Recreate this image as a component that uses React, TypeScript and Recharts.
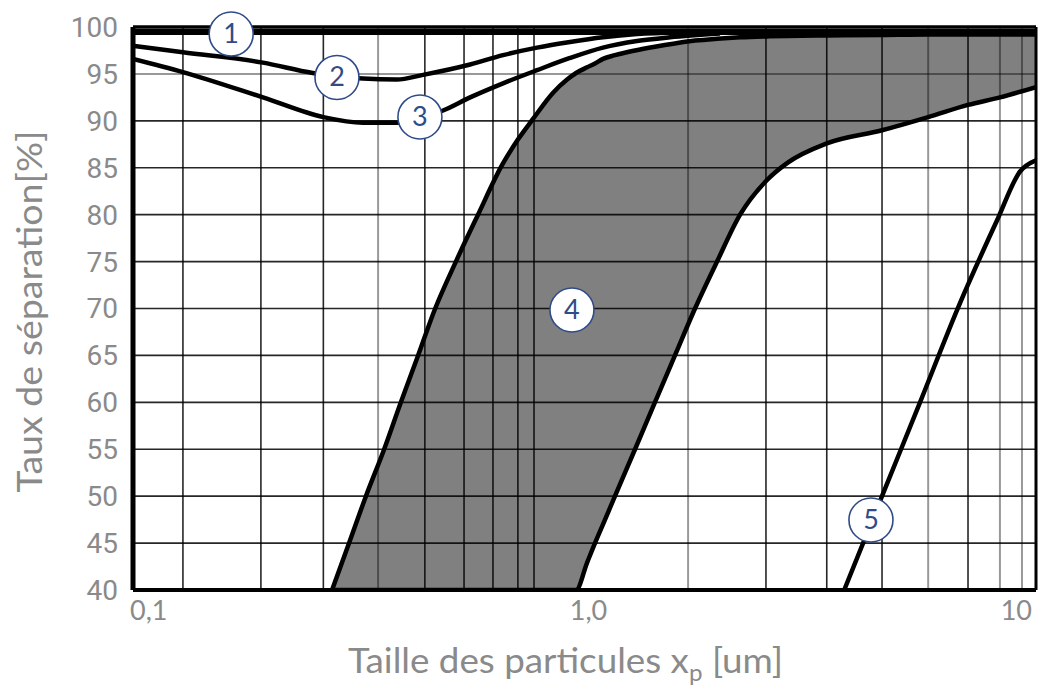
import React from 'react';
import {
  ComposedChart,
  Area,
  Line,
  XAxis,
  YAxis,
  ReferenceLine,
  ReferenceDot,
  Label,
} from 'recharts';

// particle size (um) and separation rate (%)

// shaded band (4): left edge = upper rate, right edge = lower rate
const bandSizes = [0.276, 0.301, 0.328, 0.36, 0.392, 0.428, 0.467, 0.519, 0.581, 0.657, 0.712, 0.769, 0.852, 0.915, 0.958, 1.013, 1.055, 1.099, 1.168, 1.294, 1.432, 1.586, 1.757, 1.966, 2.211, 2.537, 2.809, 3.44, 4.56, 5.77, 7.07, 8.32, 10];
const bandUpper = [40, 45, 50, 55, 60, 65, 70, 75, 80, 85.3, 88.0, 90.2, 93.0, 94.4, 95.1, 95.7, 96.1, 96.6, 97.0, 97.5, 97.9, 98.25, 98.55, 98.75, 98.9, 99.0, 99.05, 99.1, 99.15, 99.2, 99.2, 99.2, 99.2];
const bandLower = [40, 40, 40, 40, 40, 40, 40, 40, 40, 40, 40, 40, 40, 40, 40, 42.9, 45, 47, 50, 55, 60, 65, 70, 75, 80, 83.7, 85.5, 87.6, 89.0, 90.4, 91.7, 92.5, 93.6];

const curve1Sizes = [0.1, 10];
const curve1Values = [99.47, 99.47];

const curve2Sizes = [0.1, 0.129, 0.194, 0.25, 0.323, 0.384, 0.439, 0.558, 0.66, 0.785, 0.929, 1.099, 1.307, 1.627];
const curve2Values = [98.0, 97.3, 96.2, 95.1, 94.5, 94.4, 94.9, 96.0, 97.0, 97.8, 98.4, 98.9, 99.25, 99.45];

const curve3Sizes = [0.1, 0.129, 0.194, 0.264, 0.323, 0.384, 0.486, 0.558, 0.66, 0.785, 0.929, 1.099, 1.307, 1.547, 1.996];
const curve3Values = [96.6, 95.2, 92.5, 90.4, 89.8, 89.8, 91.1, 92.5, 94.0, 95.4, 96.7, 97.8, 98.5, 98.9, 99.3];

const curve5Sizes = [3.76, 4.56, 5.535, 6.79, 8.2, 9.218, 10];
const curve5Values = [40, 50, 60, 70.6, 79.4, 84.6, 85.8];

// numbered markers
const markerIds = ['1', '2', '3', '4', '5'];
const markerSizes = [0.165, 0.283, 0.432, 0.938, 4.31];
const markerValues = [99.25, 94.62, 90.41, 69.84, 47.46];

// axes
const xTickValues = [0.1, 1, 10];
const xTickLabels = ['0,1', '1,0', '10'];
const yTickValues = [40, 45, 50, 55, 60, 65, 70, 75, 80, 85, 90, 95, 100];

// grid lines as drawn in the figure
const gridSizesDark = [0.129, 0.192, 0.264, 0.443, 0.541, 0.627, 0.712, 0.773, 2.523, 3.44, 4.56, 7.07];
const gridSizesLight = [0.349, 1.696, 5.77, 8.32, 9.31];
const gridRatesDark = [45, 50, 55, 60, 65, 70, 75, 80, 85, 90];
const gridRatesLight = [95];

const bandData = bandSizes.map((x, i) => ({
  x,
  lo: bandLower[i],
  hi: bandUpper[i],
  range: [bandLower[i], bandUpper[i]],
}));

const toPoints = (xs: number[], ys: number[]) => xs.map((x, i) => ({ x, y: ys[i] }));

const curve1 = toPoints(curve1Sizes, curve1Values);
const curve2 = toPoints(curve2Sizes, curve2Values);
const curve3 = toPoints(curve3Sizes, curve3Values);
const curve5 = toPoints(curve5Sizes, curve5Values);

const GREY_TEXT = '#8a8a8a';
const MARK_BLUE = '#2f4c88';
const CURVE_W = 4.5;

const XTick = ({ x, y, payload }: any) => {
  const i = xTickValues.indexOf(payload.value);
  const anchor = i === 0 ? 'start' : i === xTickValues.length - 1 ? 'end' : 'middle';
  return (
    <text
      x={x + (i === 0 ? -3 : i === 1 ? 4 : 0)}
      y={y + 30}
      textAnchor={anchor}
      fill={GREY_TEXT}
      fontSize={27}
      fontFamily="Lato, sans-serif"
    >
      {xTickLabels[i]}
    </text>
  );
};

const XTitle = ({ viewBox }: any) => {
  const { x, y, width } = viewBox;
  return (
    <text
      x={x + width / 2 - 19}
      y={y + 83}
      textAnchor="middle"
      fill={GREY_TEXT}
      fontSize={35}
      fontFamily="Lato, sans-serif"
      textLength={435}
      lengthAdjust="spacingAndGlyphs"
    >
      Taille des particules x
      <tspan dy={8} fontSize={23}>p</tspan>
      <tspan dy={-8}> [um]</tspan>
    </text>
  );
};

const YTitle = ({ viewBox }: any) => {
  const { y, height } = viewBox;
  const cy = y + height / 2 + 3;
  return (
    <text
      transform={`translate(42, ${cy}) rotate(-90)`}
      textAnchor="middle"
      fill={GREY_TEXT}
      fontSize={35}
      fontFamily="Lato, sans-serif"
      textLength={362}
      lengthAdjust="spacingAndGlyphs"
    >
      Taux de séparation[%]
    </text>
  );
};

const Marker = (id: string) => (props: any) => {
  const { cx, cy } = props;
  return (
    <g>
      <circle cx={cx} cy={cy} r={22} fill="#ffffff" stroke={MARK_BLUE} strokeWidth={1.6} />
      <text
        x={cx}
        y={cy}
        dy={9}
        textAnchor="middle"
        fill={MARK_BLUE}
        fontSize={27}
        fontFamily="Lato, sans-serif"
      >
        {id}
      </text>
    </g>
  );
};

export default function App() {
  return (
    <div style={{ position: 'absolute', left: 0, top: 0, background: '#fff' }}>
      <ComposedChart
        width={1040}
        height={685}
        data={bandData}
        margin={{ top: 27, right: 4, bottom: 0, left: 0 }}
      >
        <XAxis
          dataKey="x"
          type="number"
          scale="log"
          domain={[0.1, 10]}
          ticks={xTickValues}
          allowDataOverflow
          axisLine={false}
          tickLine={false}
          tickSize={0}
          tickMargin={0}
          height={95}
          tick={<XTick />}
          label={<Label content={<XTitle />} />}
        />
        <YAxis
          type="number"
          domain={[40, 100]}
          ticks={yTickValues}
          allowDataOverflow
          axisLine={false}
          tickLine={false}
          tickSize={0}
          tickMargin={15}
          width={133}
          tick={{ fill: GREY_TEXT, fontSize: 28, fontFamily: 'Roboto, sans-serif' }}
          label={<Label content={<YTitle />} />}
        />

        <Area
          dataKey="range"
          type="monotone"
          fill="#808080"
          fillOpacity={1}
          stroke="none"
          isAnimationActive={false}
          activeDot={false}
        />

        {gridRatesDark.map((v) => (
          <ReferenceLine key={'hd' + v} y={v} stroke="#000" strokeOpacity={0.85} strokeWidth={1.6} />
        ))}
        {gridRatesLight.map((v) => (
          <ReferenceLine key={'hl' + v} y={v} stroke="#000" strokeOpacity={0.4} strokeWidth={2} />
        ))}
        {gridSizesDark.map((v) => (
          <ReferenceLine key={'vd' + v} x={v} stroke="#000" strokeOpacity={0.85} strokeWidth={1.6} />
        ))}
        {gridSizesLight.map((v) => (
          <ReferenceLine key={'vl' + v} x={v} stroke="#000" strokeOpacity={0.4} strokeWidth={2} />
        ))}

        <Line dataKey="hi" type="monotone" stroke="#000" strokeWidth={CURVE_W} dot={false} activeDot={false} isAnimationActive={false} />
        <Line dataKey="lo" type="monotone" stroke="#000" strokeWidth={CURVE_W} dot={false} activeDot={false} isAnimationActive={false} />
        <Line data={curve1} dataKey="y" type="monotone" stroke="#000" strokeWidth={6} dot={false} activeDot={false} isAnimationActive={false} />
        <Line data={curve2} dataKey="y" type="monotone" stroke="#000" strokeWidth={CURVE_W} dot={false} activeDot={false} isAnimationActive={false} />
        <Line data={curve3} dataKey="y" type="monotone" stroke="#000" strokeWidth={CURVE_W} dot={false} activeDot={false} isAnimationActive={false} />
        <Line data={curve5} dataKey="y" type="monotone" stroke="#000" strokeWidth={CURVE_W} dot={false} activeDot={false} isAnimationActive={false} />

        {/* plot frame */}
        <ReferenceLine x={0.1} stroke="#000" strokeWidth={5} />
        <ReferenceLine x={10} stroke="#000" strokeWidth={3} />
        <ReferenceLine y={40} stroke="#000" strokeWidth={4} />
        <ReferenceLine y={100} stroke="#000" strokeWidth={3.5} />

        {markerIds.map((id, i) => (
          <ReferenceDot
            key={'m' + id}
            x={markerSizes[i]}
            y={markerValues[i]}
            r={22}
            shape={Marker(id)}
          />
        ))}
      </ComposedChart>
    </div>
  );
}
